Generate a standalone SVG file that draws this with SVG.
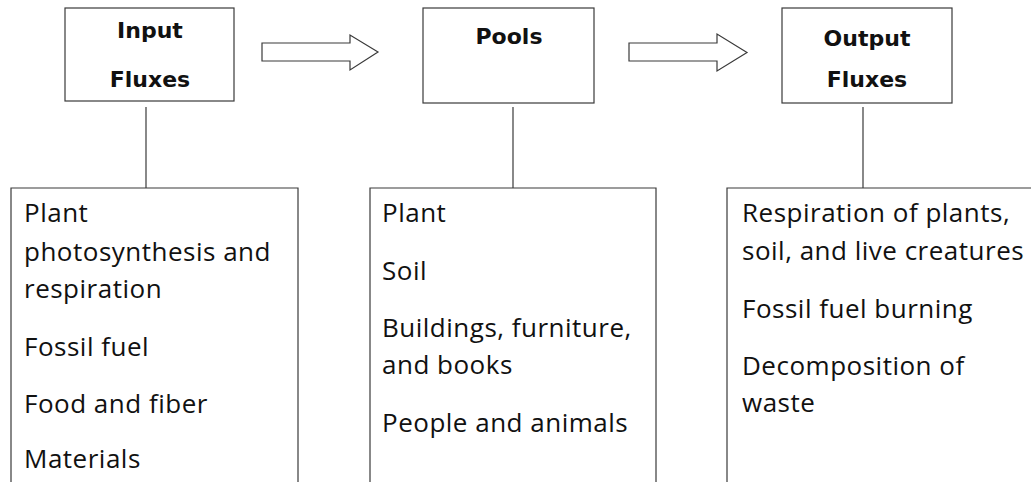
<svg xmlns="http://www.w3.org/2000/svg" width="1031" height="482" viewBox="0 0 1031 482">
<style>
.box{fill:#fff;stroke:#3a3a3a;stroke-width:1.2}
.con{fill:none;stroke:#3a3a3a;stroke-width:1.2}
.arr{fill:#fff;stroke:#3a3a3a;stroke-width:1.2;stroke-linejoin:miter}
.h{font-family:"DejaVu Sans",Verdana,sans-serif;font-weight:bold;font-size:22px;fill:#111;text-anchor:middle}
.b{font-family:"Open Sans","Liberation Sans",Arial,sans-serif;font-size:26px;letter-spacing:0.5px;fill:#111}
</style>
<rect width="1031" height="482" fill="#fff"/>
<g id="connectors">
<line class="con" x1="146" y1="107" x2="146" y2="188"/>
<line class="con" x1="513" y1="107" x2="513" y2="188"/>
<line class="con" x1="863" y1="107" x2="863" y2="188"/>
<polygon class="arr" points="262,43 350,43 350,35 378,52 350,70 350,61 262,61"/>
<polygon class="arr" points="629,43 717,43 717,34 747,52.5 717,71 717,61 629,61"/>
</g>
<g id="input-fluxes">
<rect class="box" x="65" y="8" width="169" height="93"/>
<text class="h" x="150" y="38">Input</text>
<text class="h" x="150" y="87">Fluxes</text>
</g>
<g id="pools">
<rect class="box" x="423" y="8" width="171" height="95"/>
<text class="h" x="509" y="44">Pools</text>
</g>
<g id="output-fluxes">
<rect class="box" x="782" y="8" width="170" height="95"/>
<text class="h" x="867" y="46">Output</text>
<text class="h" x="867" y="87">Fluxes</text>
</g>
<g id="input-list">
<path class="con" d="M11,483 V188 H298 V483"/>
<text class="b" x="24" y="222">Plant</text>
<text class="b" x="24" y="261">photosynthesis and</text>
<text class="b" x="24" y="298">respiration</text>
<text class="b" x="24" y="356">Fossil fuel</text>
<text class="b" x="24" y="413">Food and fiber</text>
<text class="b" x="24" y="468">Materials</text>
</g>
<g id="pools-list">
<path class="con" d="M370,483 V188 H656 V483"/>
<text class="b" x="382" y="222">Plant</text>
<text class="b" x="382" y="280">Soil</text>
<text class="b" x="382" y="337">Buildings, furniture,</text>
<text class="b" x="382" y="374">and books</text>
<text class="b" x="382" y="432">People and animals</text>
</g>
<g id="output-list">
<path class="con" d="M727,483 V188 H1032"/>
<text class="b" x="742" y="222">Respiration of plants,</text>
<text class="b" x="742" y="260">soil, and live creatures</text>
<text class="b" x="742" y="318">Fossil fuel burning</text>
<text class="b" x="742" y="375">Decomposition of</text>
<text class="b" x="742" y="412">waste</text>
</g>
</svg>
